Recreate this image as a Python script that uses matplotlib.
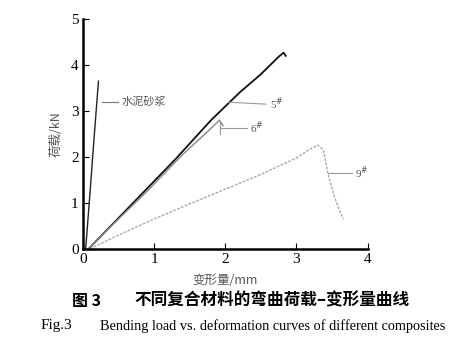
import matplotlib
matplotlib.use("Agg")
import matplotlib.pyplot as plt

plt.rcParams['font.family'] = ['Liberation Serif', 'Noto Sans CJK SC']

# curve data (deformation mm, load kN)
mortar_x = [0.04, 0.10, 0.16, 0.22]
mortar_y = [0.0, 1.2, 2.45, 3.65]

s5_x = [0.08, 0.3, 0.8, 1.3, 1.8, 2.2, 2.5, 2.75, 2.82, 2.85]
s5_y = [0.0, 0.35, 1.15, 1.95, 2.8, 3.4, 3.8, 4.18, 4.27, 4.2]

s6_x = [0.08, 0.4, 0.9, 1.4, 1.75, 1.92, 1.97]
s6_y = [0.0, 0.5, 1.25, 2.05, 2.55, 2.8, 2.68]

s9_x = [0.1, 0.5, 1.0, 1.5, 2.0, 2.5, 3.0, 3.2, 3.3, 3.38, 3.44, 3.52, 3.6, 3.66]
s9_y = [0.0, 0.3, 0.65, 0.98, 1.3, 1.62, 1.98, 2.18, 2.26, 2.15, 1.65, 1.2, 0.85, 0.65]

xticks = [0, 1, 2, 3, 4]
yticks = [0, 1, 2, 3, 4, 5]

fig = plt.figure(figsize=(4.55, 3.41), dpi=100)
ax = fig.add_axes([0.182, 0.270, 0.626, 0.674])

ax.plot(mortar_x, mortar_y, color='#222222', lw=1.0)
ax.plot(s5_x, s5_y, color='#111111', lw=1.3)
ax.plot(s6_x, s6_y, color='#888888', lw=1.0)
ax.plot(s9_x, s9_y, color='#aaaaaa', lw=1.0, ls=(0, (2, 1)))

# leader lines + labels
cjk = ['Noto Sans CJK SC', 'DejaVu Sans']
ax.plot([0.27, 0.5], [3.2, 3.2], color='#777777', lw=0.8)
ax.text(0.55, 3.2, '水泥砂浆', family=cjk, fontsize=8, color='#555555', va='center')
ax.plot([2.05, 2.57], [3.19, 3.15], color='#999999', lw=0.8)
ax.text(2.63, 3.17, '5$^{\\#}$', fontsize=8, color='#555555', va='center')
ax.plot([1.93, 1.93, 2.3], [2.6, 2.63, 2.63], color='#999999', lw=0.8)
ax.plot([1.93, 1.93], [2.5, 2.75], color='#999999', lw=0.8)
ax.plot([3.44, 3.78], [1.65, 1.65], color='#999999', lw=0.8)
ax.text(3.82, 1.65, '9$^{\\#}$', fontsize=8, color='#555555', va='center')
ax.text(2.35, 2.63, '6$^{\\#}$', fontsize=8, color='#555555', va='center')

ax.set_xlim(0, 4)
ax.set_ylim(0, 5)
ax.set_xticks(xticks)
ax.set_yticks(yticks)
ax.tick_params(direction='in', length=4, width=0.8, labelsize=11, pad=3)
ax.spines['top'].set_visible(False)
ax.spines['right'].set_visible(False)
ax.spines['left'].set_linewidth(1.8)
ax.spines['bottom'].set_linewidth(1.8)

ax.set_xlabel('变形量/mm', family=cjk, fontsize=9, color='#555555', labelpad=6)
ax.set_ylabel('荷载/kN', family=cjk, fontsize=9, color='#555555', labelpad=6)

fig.text(0.158, 0.118, '图 3', family=cjk, fontsize=11.5, fontweight='bold', va='center')
fig.text(0.295, 0.118, '不同复合材料的弯曲荷载–变形量曲线', family=cjk,
         fontsize=12, fontweight='bold', ha='left', va='center')
fig.text(0.088, 0.045, 'Fig.3', fontsize=11, ha='left', va='center')
fig.text(0.22, 0.045, 'Bending load vs. deformation curves of different composites',
         fontsize=10.3, ha='left', va='center')

fig.savefig('out.png', dpi=100)
